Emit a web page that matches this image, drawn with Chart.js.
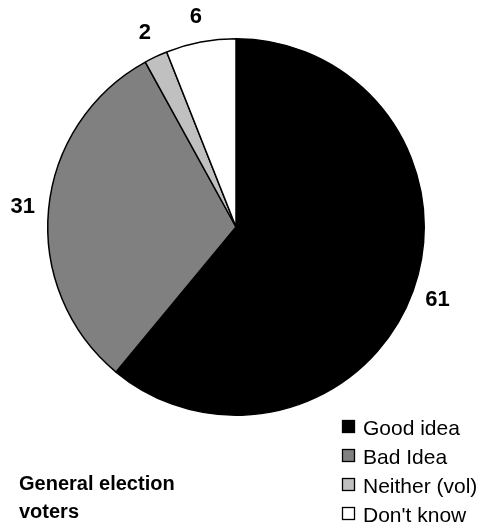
<!DOCTYPE html>
<html>
<head>
<meta charset="utf-8">
<script src="https://cdn.jsdelivr.net/npm/chart.js@4"></script>
<style>
  html, body { margin: 0; padding: 0; background: #fff; }
  #wrap { position: relative; width: 483px; height: 525px; }
</style>
</head>
<body>
<div id="wrap"><canvas id="pie" width="483" height="525"></canvas></div>
<script>
const categories = ["Good idea", "Bad Idea", "Neither (vol)", "Don't know"];
const values = [61, 31, 2, 6];
const colors = ["#000000", "#808080", "#c0c0c0", "#ffffff"];
const caption = ["General election", "voters"];

// value labels outside each slice
const outsideLabels = {
  id: "outsideLabels",
  afterDatasetsDraw(chart) {
    const ctx = chart.ctx;
    const meta = chart.getDatasetMeta(0);
    ctx.save();
    ctx.font = "bold 22px 'Liberation Sans', Arial, sans-serif";
    ctx.fillStyle = "#000";
    ctx.textAlign = "center";
    ctx.textBaseline = "middle";
    meta.data.forEach((arc, i) => {
      const mid = (arc.startAngle + arc.endAngle) / 2;
      const r = arc.outerRadius + 26;
      ctx.fillText(values[i], arc.x + Math.cos(mid) * r, arc.y + Math.sin(mid) * r);
    });
    ctx.restore();
  }
};

// legend bottom right, caption bottom left
const legendAndCaption = {
  id: "legendAndCaption",
  afterDraw(chart) {
    const ctx = chart.ctx;
    ctx.save();
    ctx.textBaseline = "alphabetic";
    ctx.font = "21px 'Liberation Sans', Arial, sans-serif";
    categories.forEach((name, i) => {
      const y = 427 + i * 29;
      ctx.fillStyle = colors[i];
      ctx.fillRect(342.5, y - 6.5, 12, 12);
      ctx.strokeStyle = "#000";
      ctx.lineWidth = 1.3;
      ctx.strokeRect(342.5, y - 6.5, 12, 12);
      ctx.fillStyle = "#000";
      ctx.fillText(name, 363, y + 7.5);
    });
    ctx.font = "bold 20px 'Liberation Sans', Arial, sans-serif";
    ctx.fillText(caption[0], 19, 490);
    ctx.fillText(caption[1], 19, 518);
    ctx.restore();
  }
};

new Chart(document.getElementById("pie"), {
  type: "pie",
  data: {
    labels: categories,
    datasets: [{
      data: values,
      backgroundColor: colors,
      borderColor: "#000",
      borderWidth: 1.5
    }]
  },
  options: {
    responsive: false,
    animation: false,
    layout: { padding: { left: 47, right: 58, top: 38, bottom: 109 } },
    plugins: {
      legend: { display: false },
      tooltip: { enabled: false }
    }
  },
  plugins: [outsideLabels, legendAndCaption]
});
</script>
</body>
</html>
